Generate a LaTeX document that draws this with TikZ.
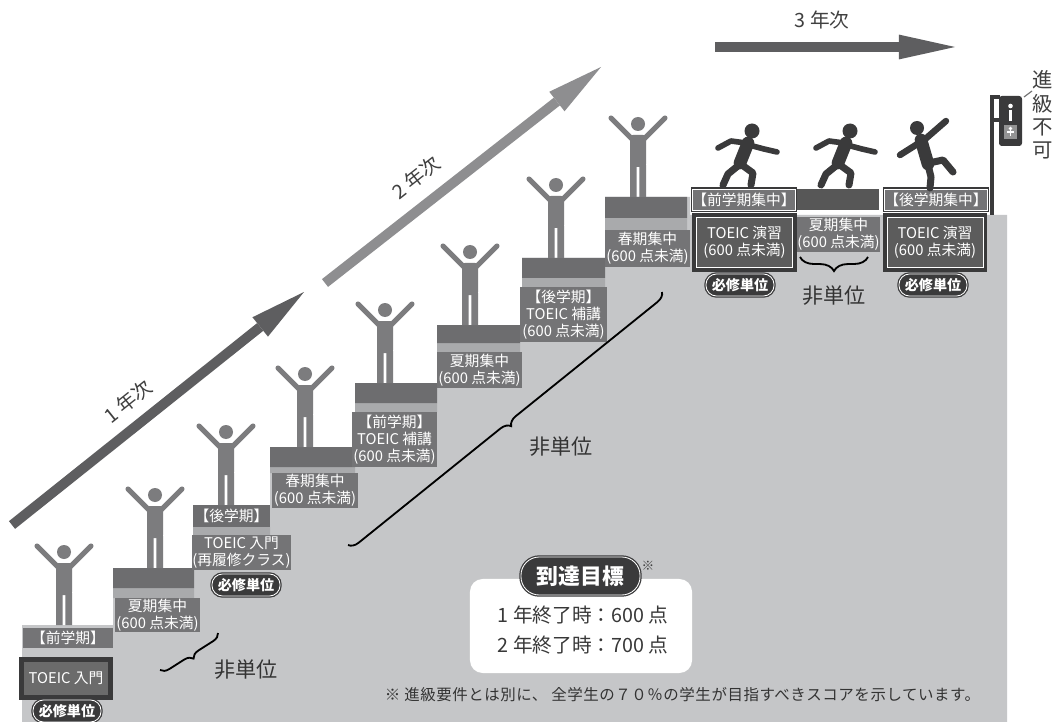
\documentclass[tikz,border=0pt]{standalone}
\usepackage{fontspec}
\setmainfont{Noto Sans CJK JP}
\usetikzlibrary{arrows.meta,decorations.pathreplacing}
\definecolor{stairgray}{HTML}{C5C6C8}
\definecolor{risergray}{HTML}{A9AAAC}
\definecolor{stepgray}{HTML}{6D6D6F}
\definecolor{labelgray}{HTML}{747476}
\definecolor{figgray}{HTML}{7C7C7E}
\definecolor{inkdark}{HTML}{3A3A3B}
\definecolor{arrowdark}{HTML}{5E5E60}
\definecolor{arrowlight}{HTML}{8E8E90}

\begin{document}
\begin{tikzpicture}[x=0.025cm, y=-0.025cm,
      lbl/.style={rectangle, fill=labelgray, text=white, inner sep=0pt, align=center, font=\fontsize{10.5}{12}\selectfont},
      core/.style={lbl, fill=black!58, preaction={draw=inkdark, line width=7pt}},
      drill/.style={lbl, fill=black!64, draw=white, line width=0.7pt, preaction={draw=inkdark, line width=6pt}},
      term/.style={lbl, draw=white, line width=0.5pt, preaction={draw=inkdark, line width=2.2pt}},
      pill/.style={rectangle, rounded corners=7.5pt, fill=inkdark, draw=white, line width=0.6pt, text=white, inner sep=0pt, font=\fontsize{10}{11}\selectfont\bfseries, minimum width=1.7cm, minimum height=0.55cm, preaction={draw=inkdark, line width=2.4pt}},
      platform/.style={fill=stepgray},
      riser/.style={fill=risergray},
      nonc/.style={font=\fontsize{15}{17}\selectfont, text=black!80},
      brc/.style={decorate, decoration={brace, amplitude=#1}, line width=1.3pt, black},
      year/.style={line width=7pt, -{Triangle[length=1.4cm, width=0.62cm, line width=0pt]}},
      yeartxt/.style={font=\fontsize{14}{16}\selectfont, text=black!75},
      goaltxt/.style={font=\fontsize{14}{16}\selectfont, text=black!78},
      cheer/.pic={
        \fill[figgray] (0,-73) circle[radius=7];
        \draw[figgray, line width=3.6pt, line cap=round] (-27,-79) -- (-5,-57) (27,-79) -- (5,-57);
        \fill[figgray, rounded corners=2pt] (-8,-62) rectangle (8,-30);
        \fill[figgray] (-8,-32) rectangle (-1.3,0) (1.3,-32) rectangle (8,0);
      },
      runner/.pic={
        \fill[inkdark] (7,-54) circle[radius=7.5];
        \draw[inkdark, line width=9pt, line cap=round] (3,-42) -- (-5,-22);
        \draw[inkdark, line width=4pt, line cap=round, line join=round] (1,-42) -- (-14,-44) -- (-27,-37) (4,-40) -- (19,-36) -- (32,-33);
        \draw[inkdark, line width=5pt, line cap=round, line join=round] (-6,-20) -- (-17,-11) -- (-22,0) (-3,-20) -- (8,-12) -- (6,0);
      },
      faller/.pic={
        \fill[inkdark] (-13,-60) circle[radius=7];
        \draw[inkdark, line width=9pt, line cap=round] (-9,-48) -- (-2,-24);
        \draw[inkdark, line width=4.6pt, line cap=round] (-7,-47) -- (16,-67) (-11,-45) -- (-30,-33);
        \draw[inkdark, line width=5pt, line cap=round, line join=round] (-2,-23) -- (1,-11) -- (0,0) (-1,-25) -- (13,-28) -- (23,-16);
      }
    ]
      \path[use as bounding box, fill=white] (0,0) rectangle (1060,722);

      % Staircase
      \fill[stairgray] (22,722) -- (22,625) -- (113,625) -- (113,568) -- (193,568) -- (193,505) -- (270,505) -- (270,447) -- (355,447) -- (355,383) -- (437,383) -- (437,325) -- (522,325) -- (522,258) -- (605,258) -- (605,197) -- (690,197) -- (690,215) -- (1007,215) -- (1007,722) -- cycle;
      \fill[riser] (113,588) rectangle (194,598) (193,527) rectangle (270,535) (270,467) rectangle (355,473) (355,403) rectangle (437,412) (437,343) rectangle (520,352) (522,278) rectangle (605,287) (605,218) rectangle (687,230);
      \fill[platform] (113,568) rectangle (194,588) (270,447) rectangle (355,467) (355,383) rectangle (437,403) (437,325) rectangle (520,343) (522,258) rectangle (605,278) (605,197) rectangle (687,218);

      % 1st year
      \node[lbl, minimum width=2.25cm, minimum height=0.5cm] (y1_first) at (68,638) {【前学期】};
      \node[core, minimum width=2.1cm, minimum height=0.825cm] (y1_intro) at (66,678.5) {TOEIC 入門};
      \node[pill] (y1_req) at (67,711) {必修単位};
      \node[lbl, minimum width=2.125cm, minimum height=0.85cm] (y1_summer) at (157.5,615) {夏期集中\\(600 点未満)};
      \node[lbl, fill=stepgray, minimum width=1.925cm, minimum height=0.55cm] (y1_second) at (231.5,516) {【後学期】};
      \node[lbl, minimum width=2.425cm, minimum height=0.875cm] (y1_retake) at (241.5,552.5) {TOEIC 入門\\(再履修クラス)};
      \node[pill] (y1_req2) at (246,585) {必修単位};
      \node[lbl, minimum width=2.15cm, minimum height=0.875cm] (y1_spring) at (315,490.5) {春期集中\\(600 点未満)};

      % 2nd year
      \node[lbl, minimum width=2.125cm, minimum height=1.375cm] (y2_first) at (394.5,439.5) {【前学期】\\TOEIC 補講\\(600 点未満)};
      \node[lbl, minimum width=2.125cm, minimum height=0.9cm] (y2_summer) at (479.5,370) {夏期集中\\(600 点未満)};
      \node[lbl, minimum width=2.175cm, minimum height=1.375cm] (y2_second) at (563.5,314.5) {【後学期】\\TOEIC 補講\\(600 点未満)};
      \node[lbl, minimum width=2.125cm, minimum height=0.925cm] (y2_spring) at (647.5,248.5) {春期集中\\(600 点未満)};

      % 3rd year
      \node[term, minimum width=2.3cm, minimum height=0.525cm] (y3_first) at (744,199.5) {【前学期集中】};
      \node[rectangle, fill=black!66, minimum width=2.05cm, minimum height=0.525cm] (y3_gap) at (838,199.5) {};
      \node[term, minimum width=2.3cm, minimum height=0.525cm] (y3_second) at (936,199.5) {【後学期集中】};
      \node[drill, minimum width=2.4cm, minimum height=1.25cm] (y3_drill1) at (744.5,242.5) {TOEIC 演習\\(600 点未満)};
      \node[lbl, minimum width=2.075cm, minimum height=0.875cm] (y3_summer) at (838.5,234.5) {夏期集中\\(600 点未満)};
      \node[drill, minimum width=2.4cm, minimum height=1.25cm] (y3_drill2) at (935,242.5) {TOEIC 演習\\(600 点未満)};
      \node[pill] (y3_req1) at (740,285) {必修単位};
      \node[pill] (y3_req2) at (933,285) {必修単位};

      % People on the steps
      \pic at (64,625) {cheer};
      \pic at (155,568) {cheer};
      \pic at (226,505) {cheer};
      \pic at (305,447) {cheer};
      \pic at (385,383) {cheer};
      \pic at (470,325) {cheer};
      \pic at (556,258) {cheer};
      \pic at (638,197) {cheer};
      \pic at (745,185) {runner};
      \pic at (843,185) {runner};
      \pic at (930,188) {faller};

      % Signal and "no promotion"
      \draw[inkdark, line width=2.8pt] (992,215) -- (992,97) -- (1000,97);
      \draw[inkdark, line width=2.8pt] (992,120) -- (1000,120);
      \fill[inkdark, rounded corners=2pt] (999,96) rectangle (1022,146);
      \fill[white] (1010.5,106) circle[radius=2.3];
      \fill[white] (1009,110) rectangle (1012,121);
      \fill[black!42] (1004,125) rectangle (1017,139);
      \fill[white] (1010.5,128.5) circle[radius=1.8];
      \draw[white, line width=0.8pt] (1010.5,130) -- (1010.5,136) (1007,132) -- (1014,132);
      \draw[black!55, line width=0.8pt] (1024,97) -- (1032,91);
      \node[font=\fontsize{14.5}{16.5}\selectfont, text=black!75, align=center, inner sep=0pt] (stop_lbl) at (1043,115) {進\\級\\不\\可};

      % Year arrows
      \coordinate (y1_from) at (12,525);
      \coordinate (y1_to) at (304,292);
      \coordinate (y2_from) at (325,283);
      \coordinate (y2_to) at (601,67);
      \coordinate (y3_from) at (715,47);
      \coordinate (y3_to) at (955,47);
      \draw[year, arrowdark] (y1_from) -- (y1_to) node[pos=0.45, sloped, above=4pt, yeartxt] (y1_txt) {1 年次};
      \draw[year, arrowlight] (y2_from) -- (y2_to) node[pos=0.39, sloped, above=6pt, yeartxt] (y2_txt) {2 年次};
      \draw[year, arrowdark] (y3_from) -- (y3_to) node[pos=0.446, above=6pt, yeartxt] (y3_txt) {3 年次};

      % Non-credit braces
      \coordinate (b1_a) at (218,633);
      \coordinate (b1_b) at (160,670);
      \coordinate (b2_a) at (662,292);
      \coordinate (b2_b) at (348,545);
      \coordinate (b3_a) at (868,257);
      \coordinate (b3_b) at (800,257);
      \draw[brc=6pt] (b1_a) -- (b1_b);
      \draw[brc=7pt] (b2_a) -- (b2_b);
      \draw[brc=10pt] (b3_a) -- (b3_b);
      \node[nonc] (nc1) at (246,670) {非単位};
      \node[nonc] (nc2) at (561,447) {非単位};
      \node[nonc] (nc3) at (834,296) {非単位};

      % Target scores
      \node[rectangle, rounded corners=9pt, fill=white, minimum width=5.55cm, minimum height=2.35cm] (goal_box) at (581,626) {};
      \node[pill, rounded corners=13pt, font=\fontsize{15.5}{17}\selectfont\bfseries, minimum width=2.975cm, minimum height=0.95cm] (goal_tag) at (580.5,576) {到達目標};
      \node[font=\fontsize{9}{10}\selectfont, text=black!75] (goal_mark) at (648,566) {※};
      \node[goaltxt] (goal_y1) at (583,615) {1 年終了時：600 点};
      \node[goaltxt] (goal_y2) at (583,645) {2 年終了時：700 点};
      \node[font=\fontsize{11}{12}\selectfont\addfontfeatures{LetterSpace=3.5}, text=black!80, anchor=east] (footnote) at (985,695) {※ 進級要件とは別に、 全学生の７０％の学生が目指すべきスコアを示しています。};
    \end{tikzpicture}
\end{document}
